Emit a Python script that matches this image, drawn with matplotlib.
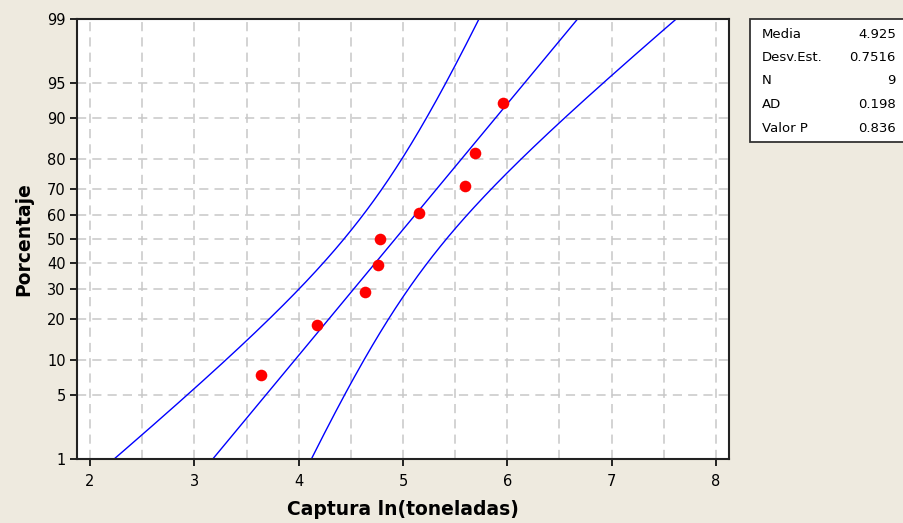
import numpy as np
import matplotlib.pyplot as plt
from matplotlib.patches import Rectangle
from statistics import NormalDist

# ln(catch) values, sorted
captura_ln = [3.64, 4.175, 4.633, 4.764, 4.78, 5.154, 5.596, 5.69, 5.96]
media = 4.925
desv_est = 0.7516
n = 9
ad = 0.198
valor_p = 0.836

pct_ticks = [1, 5, 10, 20, 30, 40, 50, 60, 70, 80, 90, 95, 99]
pct_grid = [5, 10, 20, 30, 40, 50, 60, 70, 80, 90, 95]
x_ticks = [2, 3, 4, 5, 6, 7, 8]

nd = NormalDist()
def z(p):
    return nd.inv_cdf(p / 100.0)

# median ranks (Benard) for the plotting positions
rank = np.arange(1, n + 1)
pos = (rank - 0.3) / (n + 0.4) * 100
y_pts = [z(p) for p in pos]

# fitted line and 95% bands
zz = np.linspace(z(0.5), z(99.5), 300)
fit = media + desv_est * zz
half = 1.96 * desv_est * np.sqrt(1.0 / n + zz**2 / (2 * n))

bg = '#EEEADF'
fig = plt.figure(figsize=(9.04, 5.23), dpi=100, facecolor=bg)
ax = fig.add_axes([77 / 904, 64 / 523, 652 / 904, 440 / 523])
ax.set_facecolor('white')

for gx in np.arange(2, 8.01, 0.5):
    ax.axvline(gx, color='#c8c8c8', lw=1.1, ls=(0, (6, 4)), zorder=0)
for p in pct_grid:
    ax.axhline(z(p), color='#c8c8c8', lw=1.1, ls=(0, (6, 4)), zorder=0)

ax.plot(fit, zz, color='#0000ff', lw=1)
ax.plot(fit - half, zz, color='#0000ff', lw=1)
ax.plot(fit + half, zz, color='#0000ff', lw=1)
ax.scatter(captura_ln, y_pts, s=70, color='#ff0000', zorder=3, linewidths=0)

ax.set_xlim(1.875, 8.125)
ax.set_ylim(z(1), z(99))
ax.set_yticks([z(p) for p in pct_ticks])
ax.set_yticklabels([str(p) for p in pct_ticks])
ax.set_xticks(x_ticks)
ax.tick_params(axis='both', direction='out', length=5, width=1.2, labelsize=10.5,
               colors='black', pad=3)
ax.tick_params(axis='x', pad=6)
for s in ax.spines.values():
    s.set_linewidth(1.5)
    s.set_color('#222222')

ax.set_xlabel('Captura ln(toneladas)', fontsize=13.5, fontweight='bold', labelpad=8)
ax.set_ylabel('Porcentaje', fontsize=13.5, fontweight='bold', labelpad=10)

# summary box
W, H = 904, 523
fig.patches.append(Rectangle((750 / W, 1 - 142 / H), 160 / W, 123 / H,
                             transform=fig.transFigure, facecolor='white',
                             edgecolor='#333333', lw=1.3))
rows = [('Media', f'{media:.3f}'), ('Desv.Est.', f'{desv_est:.4f}'), ('N', f'{n}'),
        ('AD', f'{ad:.3f}'), ('Valor P', f'{valor_p:.3f}')]
for i, (lab, val) in enumerate(rows):
    yy = 1 - (34 + i * 23.5) / H
    fig.text(762 / W, yy, lab, fontsize=9.5, va='center', ha='left')
    fig.text(896 / W, yy, val, fontsize=9.5, va='center', ha='right')

fig.savefig('out.png', dpi=100, facecolor=bg)
